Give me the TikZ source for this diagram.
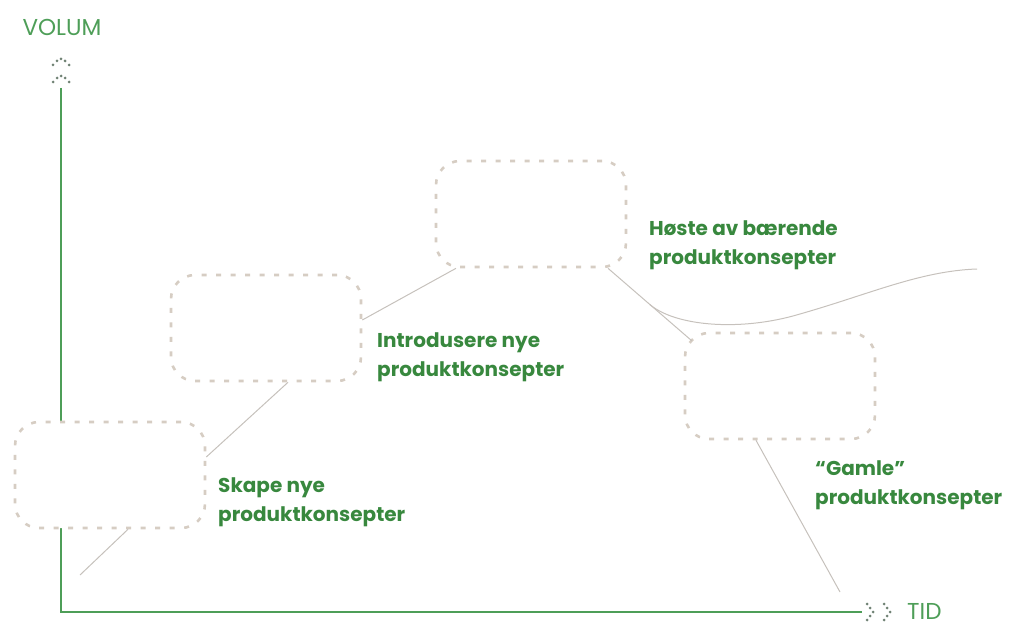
\documentclass[tikz,border=0pt]{standalone}
\usepackage{fontspec}
\setmainfont{Poppins}
\definecolor{axisgreen}{RGB}{78,158,88}
\definecolor{textgreen}{RGB}{56,136,62}
\definecolor{boxgray}{RGB}{214,205,195}
\definecolor{linegray}{RGB}{198,193,188}
\definecolor{dotgray}{RGB}{112,130,116}
\begin{document}
\begin{tikzpicture}[x=1pt,y=-1pt,
  phase/.style={draw=boxgray,line width=2.6pt,dash pattern=on 5pt off 9.5pt,rounded corners=24pt,fill=white,minimum width=190pt,minimum height=106pt},
  link/.style={draw=linegray,line width=1pt},
  lab/.style={text=textgreen,font=\bfseries\fontsize{20}{29}\selectfont,align=left,anchor=north west,inner sep=0pt},
  axislab/.style={text=axisgreen,font=\fontsize{23}{26}\selectfont,inner sep=0pt},
  axis/.style={axisgreen,line width=1.8pt}]
\useasboundingbox (0,0) rectangle (1011,623);
% axes with dotted arrow heads
\coordinate (origin) at (61,612);
\coordinate (ytop) at (61,88);
\coordinate (xend) at (862,612);
\draw[axis] (ytop) -- (origin) -- (xend);
\foreach \y in {59,76}
  \foreach \dx/\dy in {-8/6,-4/2,0/0,4/2,8/6}
    \fill[dotgray] (61+\dx,\y+\dy) circle (1.5pt);
\foreach \x in {873,890}
  \foreach \dx/\dy in {-6/-8,-3/-4,0/0,-3/4,-6/8}
    \fill[dotgray] (\x+\dx,612+\dy) circle (1.5pt);
\node[axislab] (volum) at (62,27) {VOLUM};
\node[axislab,anchor=base west] (tid) at (907,619) {TID};
% phases
\node[phase] (skape) at (110,475) {};
\node[phase] (intro) at (266,328) {};
\node[phase] (hoste) at (531,214) {};
\node[phase] (gamle) at (780,386) {};
% life cycle line
\coordinate (start) at (80,575);
\coordinate (tailend) at (977,269);
\coordinate (fallend) at (840,592);
\draw[link] (start) -- ([xshift=18pt]skape.south);
\draw[link] ([yshift=18pt]skape.east) -- ([xshift=22pt]intro.south);
\draw[link] ([yshift=8pt]intro.east) -- ([xshift=-75pt]hoste.south);
\draw[link] ([xshift=77pt]hoste.south) -- coordinate[pos=.5] (fork) ([shift={(8pt,-9pt)}]gamle.north west);
\draw[link] (fork) .. controls (675,326) and (740,332) .. (800,314) .. controls (870,294) and (920,271) .. (tailend);
\draw[link] ([xshift=-24pt]gamle.south) -- (fallend);
% labels
\node[lab] (skapelab) at (218,477) {Skape nye\\produktkonsepter};
\node[lab] (introlab) at (377,332) {Introdusere nye\\produktkonsepter};
\node[lab] (hostelab) at (649,220) {Høste av bærende\\produktkonsepter};
\node[lab] (gamlelab) at (815,460) {“Gamle”\\produktkonsepter};
\end{tikzpicture}
\end{document}
